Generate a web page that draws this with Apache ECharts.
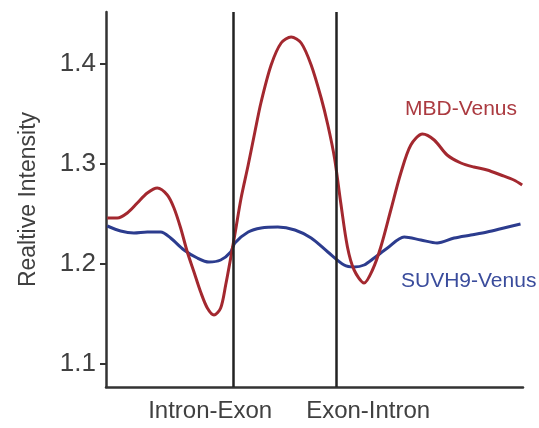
<!DOCTYPE html>
<html>
<head>
<meta charset="utf-8">
<script src="https://cdn.jsdelivr.net/npm/echarts@6/dist/echarts.min.js"></script>
<style>html,body{margin:0;padding:0;background:#fff}#c{width:539px;height:428px}</style>
</head>
<body>
<div id="c"></div>
<script>
// position along the profile (0-100), relative intensity
const mbdX = [0.3, 2.7, 5.1, 7.5, 9.9, 12.3, 14.7, 16.3, 17.9, 19.5, 21.1, 22.7, 24.3, 25.9, 27.5, 28.7, 29.9, 31.0, 32.4, 34.1, 35.7, 37.2, 39.6, 42.0, 44.4, 46.8, 49.2, 51.6, 53.2, 54.8, 56.3, 57.9, 59.5, 61.9, 63.9, 65.9, 68.3, 70.7, 73.1, 75.9, 78.7, 81.8, 85.1, 88.2, 91.4, 94.7, 97.8, 99.8];
const mbdY = [1.246, 1.246, 1.251, 1.261, 1.271, 1.276, 1.269, 1.256, 1.236, 1.212, 1.192, 1.172, 1.156, 1.149, 1.156, 1.179, 1.206, 1.232, 1.266, 1.299, 1.332, 1.362, 1.399, 1.421, 1.427, 1.421, 1.399, 1.366, 1.339, 1.306, 1.261, 1.217, 1.194, 1.181, 1.194, 1.217, 1.254, 1.291, 1.319, 1.330, 1.324, 1.309, 1.301, 1.297, 1.294, 1.289, 1.284, 1.279];
const suvhX = [0.3, 3.5, 6.7, 9.9, 13.1, 15.5, 18.7, 21.9, 24.7, 27.5, 29.9, 30.9, 34.1, 37.2, 41.2, 45.3, 49.2, 53.2, 57.1, 59.5, 61.9, 64.3, 67.5, 71.5, 75.5, 79.4, 83.5, 87.5, 91.4, 95.4, 99.4];
const suvhY = [1.238, 1.233, 1.231, 1.232, 1.232, 1.226, 1.214, 1.206, 1.202, 1.204, 1.212, 1.221, 1.232, 1.236, 1.237, 1.234, 1.226, 1.212, 1.199, 1.197, 1.199, 1.206, 1.216, 1.227, 1.224, 1.221, 1.226, 1.229, 1.232, 1.236, 1.240];
const boundaries = [30.5, 55.2];
const boundaryNames = ['Intron-Exon', 'Exon-Intron'];
const yTicks = [1.1, 1.2, 1.3, 1.4];
const seriesNames = ['MBD-Venus', 'SUVH9-Venus'];

const FONT = 'Liberation Sans';
const TXT = '#404040';
const chart = echarts.init(document.getElementById('c'), null, {renderer: 'canvas'});
const zip = (xs, ys) => xs.map((x, i) => [x, ys[i]]);

chart.setOption({
  animation: false,
  backgroundColor: '#fff',
  grid: {left: 106, right: 16, top: 12, bottom: 41},
  xAxis: {
    type: 'value', min: 0, max: 100,
    axisLine: {lineStyle: {color: '#333', width: 2.5}},
    axisTick: {show: false},
    splitLine: {show: false},
    axisLabel: {
      customValues: boundaries,
      margin: 12,
      formatter: function (v) {
        const i = boundaries.indexOf(v);
        return i === 0 ? '{l|' + boundaryNames[0] + '}' : '{r|' + boundaryNames[1] + '}';
      },
      rich: {
        l: {fontFamily: FONT, fontSize: 24, color: TXT, padding: [0, 46, 0, 0]},
        r: {fontFamily: FONT, fontSize: 24, color: TXT, padding: [0, 0, 0, 64]}
      }
    }
  },
  yAxis: {
    type: 'value', min: 1.077, max: 1.452,
    name: 'Realtive Intensity', nameLocation: 'middle', nameGap: 66,
    nameTextStyle: {fontFamily: FONT, fontSize: 23, color: TXT},
    axisLine: {show: true, lineStyle: {color: '#333', width: 2.5}},
    axisTick: {show: true, customValues: yTicks, length: 6, lineStyle: {color: '#333', width: 2}},
    splitLine: {show: false},
    axisLabel: {customValues: yTicks, margin: 10, fontFamily: FONT, fontSize: 26, color: TXT,
      formatter: v => v.toFixed(1)}
  },
  series: [
    {
      name: seriesNames[0], type: 'line', data: zip(mbdX, mbdY), smooth: 0.3, showSymbol: false,
      lineStyle: {color: '#a3282f', width: 3}, z: 3,
      markLine: {
        silent: true, symbol: 'none', label: {show: false},
        lineStyle: {color: '#222', width: 2.5, type: 'solid'},
        data: boundaries.map(v => ({xAxis: v}))
      }
    },
    {
      name: seriesNames[1], type: 'line', data: zip(suvhX, suvhY), smooth: 0.3, showSymbol: false,
      lineStyle: {color: '#2c3c8e', width: 3}, z: 2
    }
  ],
  graphic: [
    {type: 'text', left: 405, top: 99, style: {text: seriesNames[0], fontFamily: FONT, fontSize: 21, fill: '#ab3a40'}},
    {type: 'text', left: 401, top: 271, style: {text: seriesNames[1], fontFamily: FONT, fontSize: 21, fill: '#3a4c9c'}}
  ]
});
</script>
</body>
</html>
